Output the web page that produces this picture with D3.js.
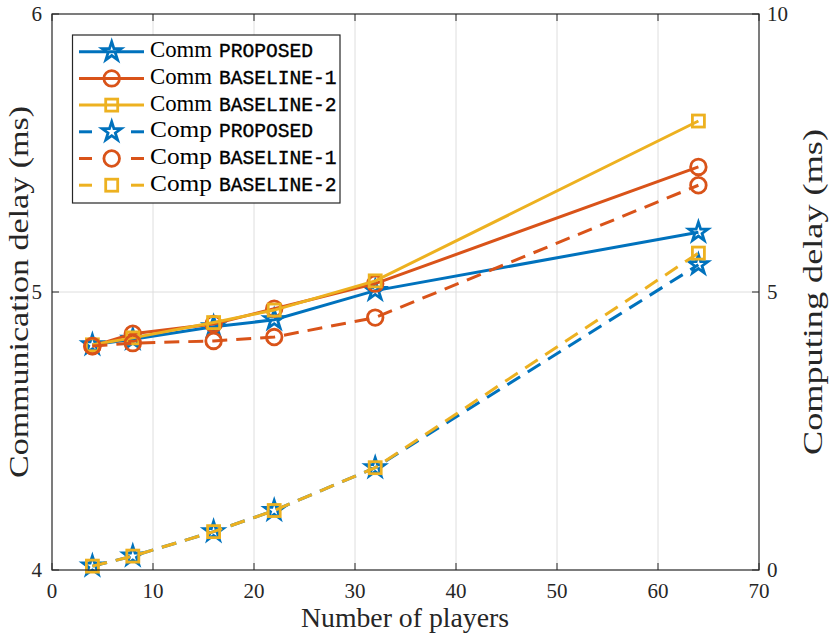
<!DOCTYPE html>
<html><head><meta charset="utf-8">
<script src="https://cdn.jsdelivr.net/npm/d3@7"></script>
<style>body{margin:0;background:#fff}svg{display:block}</style>
</head><body>
<svg id="chart" width="830" height="641"></svg>
<script>
const players = [4, 8, 16, 22, 32, 64];
const commProposed = [4.81, 4.83, 4.875, 4.90, 5.005, 5.215];
const commBaseline1 = [4.805, 4.85, 4.885, 4.94, 5.03, 5.45];
const commBaseline2 = [4.81, 4.835, 4.89, 4.935, 5.04, 5.615];
const compProposed = [0.07, 0.25, 0.69, 1.07, 1.84, 5.49];
const compBaseline1 = [4.03, 4.08, 4.12, 4.19, 4.54, 6.92];
const compBaseline2 = [0.07, 0.25, 0.69, 1.07, 1.84, 5.70];
const xTicks = [0, 10, 20, 30, 40, 50, 60, 70];
const leftTicks = [4, 5, 6];
const rightTicks = [0, 5, 10];
const seriesNames = ["PROPOSED", "BASELINE-1", "BASELINE-2"];

const colors = ["#0072BD", "#D95319", "#EDB120"];
const markers = ["star", "circle", "square"];
const M = {left: 52, right: 759, top: 14, bottom: 570};
const svg = d3.select("#chart");
const x = d3.scaleLinear().domain([0, 70]).range([M.left, M.right]);
const yL = d3.scaleLinear().domain([4, 6]).range([M.bottom, M.top]);
const yR = d3.scaleLinear().domain([0, 10]).range([M.bottom, M.top]);
const serif = "'Liberation Serif', 'Times New Roman', serif";
const mono = "'Liberation Mono', 'DejaVu Sans Mono', monospace";
const axisColor = "#262626";

// grid
const grid = svg.append("g");
xTicks.filter(t => t > 0 && t < 70).forEach(t => {
  grid.append("line").attr("x1", x(t)).attr("x2", x(t)).attr("y1", M.top).attr("y2", M.bottom)
    .attr("stroke", "#dedede").attr("stroke-width", 1);
});
leftTicks.filter(t => t > 4 && t < 6).forEach(t => {
  grid.append("line").attr("x1", M.left).attr("x2", M.right).attr("y1", yL(t)).attr("y2", yL(t))
    .attr("stroke", "#dedede").attr("stroke-width", 1);
});

// series
function pentagram(r) {
  const ri = r * 0.382;
  const pts = [];
  for (let i = 0; i < 10; i++) {
    const rr = i % 2 === 0 ? r : ri;
    const a = -Math.PI / 2 + i * Math.PI / 5;
    pts.push([rr * Math.cos(a), rr * Math.sin(a)]);
  }
  return "M" + pts.map(p => p[0].toFixed(2) + "," + p[1].toFixed(2)).join("L") + "Z";
}
function drawMarker(g, type, cx, cy, color) {
  if (type === "star") {
    g.append("path").attr("d", pentagram(10)).attr("transform", `translate(${cx},${cy})`)
      .attr("fill", "none").attr("stroke", color).attr("stroke-width", 2.8).attr("stroke-linejoin", "miter");
  } else if (type === "circle") {
    g.append("circle").attr("cx", cx).attr("cy", cy).attr("r", 7.8)
      .attr("fill", "none").attr("stroke", color).attr("stroke-width", 2.8);
  } else {
    g.append("rect").attr("x", cx - 6).attr("y", cy - 6).attr("width", 12).attr("height", 12)
      .attr("fill", "none").attr("stroke", color).attr("stroke-width", 2.8);
  }
}
const allSeries = [
  {vals: commProposed, y: yL, i: 0, dash: null},
  {vals: commBaseline1, y: yL, i: 1, dash: null},
  {vals: commBaseline2, y: yL, i: 2, dash: null},
  {vals: compProposed, y: yR, i: 0, dash: "15,9"},
  {vals: compBaseline1, y: yR, i: 1, dash: "15,9"},
  {vals: compBaseline2, y: yR, i: 2, dash: "15,9"}
];
const plot = svg.append("g");
allSeries.forEach(s => {
  const g = plot.append("g");
  const line = d3.line().x((d, k) => x(players[k])).y(d => s.y(d));
  g.append("path").attr("d", line(s.vals)).attr("fill", "none").attr("stroke", colors[s.i])
    .attr("stroke-width", 3).attr("stroke-dasharray", s.dash);
  s.vals.forEach((v, k) => drawMarker(g, markers[s.i], x(players[k]), s.y(v), colors[s.i]));
});

// axes box
svg.append("rect").attr("x", M.left).attr("y", M.top).attr("width", M.right - M.left).attr("height", M.bottom - M.top)
  .attr("fill", "none").attr("stroke", axisColor).attr("stroke-width", 1.2);
const tl = 7;
xTicks.forEach(t => {
  svg.append("line").attr("x1", x(t)).attr("x2", x(t)).attr("y1", M.bottom).attr("y2", M.bottom - tl).attr("stroke", axisColor);
  svg.append("line").attr("x1", x(t)).attr("x2", x(t)).attr("y1", M.top).attr("y2", M.top + tl).attr("stroke", axisColor);
  svg.append("text").attr("x", x(t)).attr("y", 598).attr("text-anchor", "middle")
    .attr("font-family", serif).attr("font-size", 21).attr("fill", axisColor).text(t);
});
leftTicks.forEach(t => {
  svg.append("line").attr("x1", M.left).attr("x2", M.left + tl).attr("y1", yL(t)).attr("y2", yL(t)).attr("stroke", axisColor);
  svg.append("text").attr("x", 42).attr("y", yL(t)).attr("dy", "0.34em").attr("text-anchor", "end")
    .attr("font-family", serif).attr("font-size", 21).attr("fill", axisColor).text(t);
});
rightTicks.forEach(t => {
  svg.append("line").attr("x1", M.right).attr("x2", M.right - tl).attr("y1", yR(t)).attr("y2", yR(t)).attr("stroke", axisColor);
  svg.append("text").attr("x", 767).attr("y", yR(t)).attr("dy", "0.34em").attr("text-anchor", "start")
    .attr("font-family", serif).attr("font-size", 21).attr("fill", axisColor).text(t);
});

// axis labels
svg.append("text").attr("x", 405).attr("y", 627).attr("text-anchor", "middle")
  .attr("font-family", serif).attr("font-size", 26.5).attr("fill", axisColor)
  .attr("textLength", 208).attr("lengthAdjust", "spacingAndGlyphs").text("Number of players");
svg.append("text").attr("transform", "translate(28,292) rotate(-90)").attr("text-anchor", "middle")
  .attr("font-family", serif).attr("font-size", 26.5).attr("fill", axisColor)
  .attr("textLength", 372).attr("lengthAdjust", "spacingAndGlyphs").text("Communication delay (ms)");
svg.append("text").attr("transform", "translate(822,292) rotate(-90)").attr("text-anchor", "middle")
  .attr("font-family", serif).attr("font-size", 26.5).attr("fill", axisColor)
  .attr("textLength", 326).attr("lengthAdjust", "spacingAndGlyphs").text("Computing delay (ms)");

// legend
const leg = svg.append("g");
leg.append("rect").attr("x", 72.5).attr("y", 35).attr("width", 267.5).attr("height", 168)
  .attr("fill", "#fff").attr("stroke", axisColor).attr("stroke-width", 1.2);
const legendItems = [];
["Comm", "Comp"].forEach((p, pi) => seriesNames.forEach((n, i) => legendItems.push({p, n, i, dashed: pi === 1})));
legendItems.forEach((it, k) => {
  const cy = 51.7 + k * 26.7;
  const c = colors[it.i];
  if (!it.dashed) {
    leg.append("line").attr("x1", 79).attr("x2", 144).attr("y1", cy).attr("y2", cy).attr("stroke", c).attr("stroke-width", 3);
  } else {
    leg.append("line").attr("x1", 79).attr("x2", 92).attr("y1", cy).attr("y2", cy).attr("stroke", c).attr("stroke-width", 3);
    leg.append("line").attr("x1", 131).attr("x2", 144).attr("y1", cy).attr("y2", cy).attr("stroke", c).attr("stroke-width", 3);
  }
  drawMarker(leg, markers[it.i], 111.7, cy, c);
  const t = leg.append("text").attr("y", cy).attr("dy", "0.35em").attr("fill", "#000");
  t.append("tspan").attr("x", 150).attr("font-family", serif).attr("font-size", 22.5)
    .attr("textLength", 62).attr("lengthAdjust", "spacingAndGlyphs").text(it.p);
  t.append("tspan").attr("x", 219).attr("font-family", mono).attr("font-size", 19.6)
    .attr("stroke", "#000").attr("stroke-width", 0.35).text(it.n);
});
</script>
</body></html>
